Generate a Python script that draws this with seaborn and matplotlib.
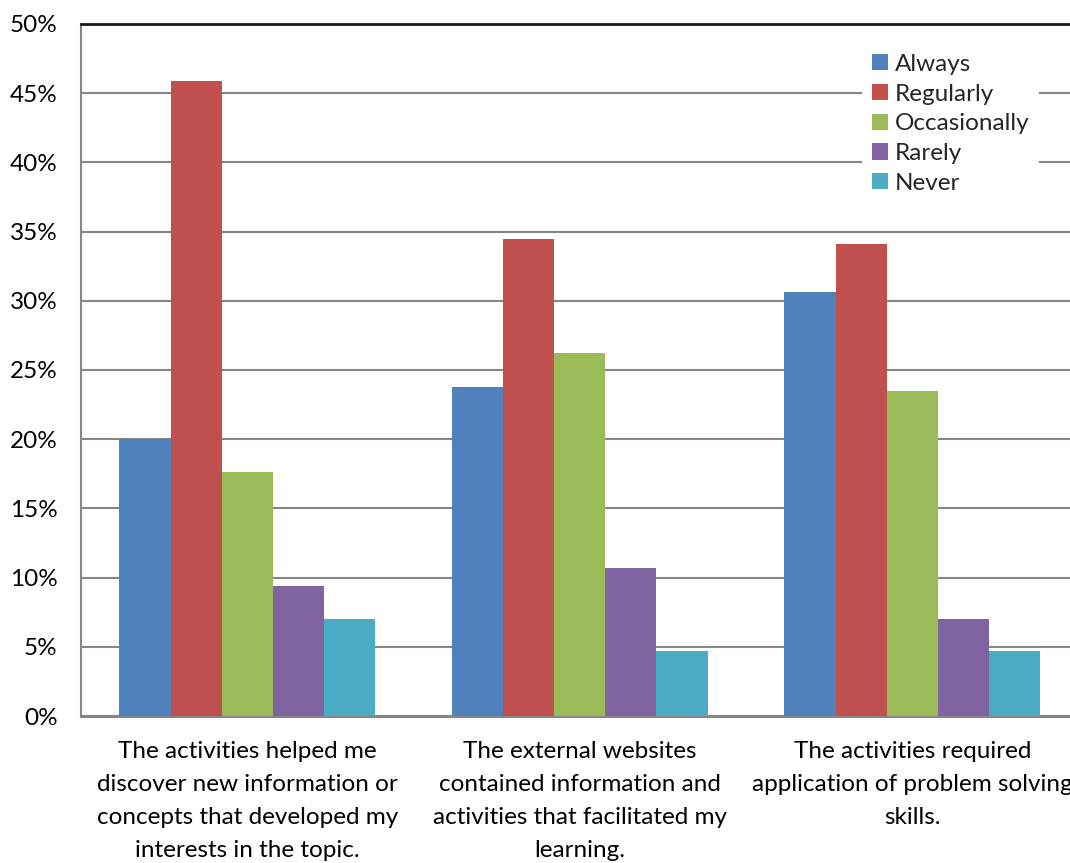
import matplotlib
matplotlib.use("Agg")
import matplotlib.pyplot as plt
import seaborn as sns
import pandas as pd
from matplotlib.ticker import FuncFormatter, MultipleLocator

# Survey statements (category axis)
statements = [
    "The activities helped me\ndiscover new information or\nconcepts that developed my\ninterests in the topic.",
    "The external websites\ncontained information and\nactivities that facilitated my\nlearning.",
    "The activities required\napplication of problem solving\nskills.",
]

# Response frequencies (percent of respondents)
responses = ["Always", "Regularly", "Occasionally", "Rarely", "Never"]
always = [20.0, 23.8, 30.6]
regularly = [45.9, 34.5, 34.1]
occasionally = [17.6, 26.2, 23.5]
rarely = [9.4, 10.7, 7.0]
never = [7.0, 4.7, 4.7]

colors = ["#4F81BD", "#C0504D", "#9BBB59", "#8064A2", "#4BACC6"]

rows = []
for resp, vals in zip(responses, [always, regularly, occasionally, rarely, never]):
    for stmt, v in zip(statements, vals):
        rows.append({"statement": stmt, "response": resp, "pct": v})
df = pd.DataFrame(rows)

sns.set_theme(style="white")
plt.rcParams["font.family"] = ["Lato", "DejaVu Sans"]

FS = 17.5

fig = plt.figure(figsize=(10.70, 8.63), dpi=100)
ax = fig.add_axes([81 / 1070, (863 - 716) / 863, 997.5 / 1070, 692 / 863])

sns.barplot(
    data=df, x="statement", y="pct", hue="response",
    order=statements, hue_order=responses, palette=colors,
    width=0.769, gap=0, linewidth=0, saturation=1, ax=ax, zorder=3,
)

ax.set_ylim(0, 50)
ax.set_xlim(-0.5, 2.5)
ax.yaxis.set_major_locator(MultipleLocator(5))
ax.yaxis.set_major_formatter(FuncFormatter(lambda v, _: f"{v:.0f}%"))
ax.grid(axis="y", color="#868686", linewidth=1.5, zorder=0)
ax.set_axisbelow(True)

for side in ["left", "bottom"]:
    ax.spines[side].set_color("#868686")
ax.spines["left"].set_linewidth(1.5)
ax.spines["bottom"].set_linewidth(2.2)
ax.spines["top"].set_color("#1a1a1a")
ax.spines["top"].set_linewidth(2)
ax.spines["right"].set_visible(False)

ax.tick_params(axis="both", length=0, labelsize=FS, colors="black")
ax.tick_params(axis="y", pad=17)
ax.tick_params(axis="x", pad=18)
for lbl in ax.get_xticklabels():
    lbl.set_linespacing(1.7)
ax.set_xlabel("")
ax.set_ylabel("")

leg = ax.legend(
    loc="upper left", bbox_to_anchor=(769 / 997.5, 1 - 8 / 692),
    frameon=True, framealpha=1, edgecolor="white", facecolor="white",
    fontsize=FS, handlelength=0.65, handleheight=0.65, handletextpad=0.28,
    labelspacing=0.36, borderpad=0.4, fancybox=False,
)
leg.get_frame().set_linewidth(0)

fig.savefig("out.png", dpi=100)
